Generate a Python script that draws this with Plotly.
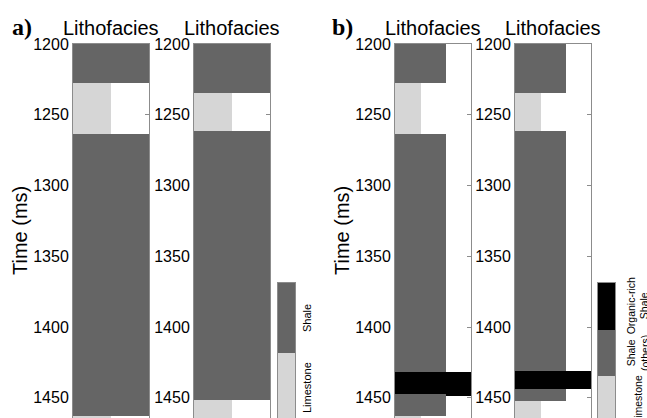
import plotly.graph_objects as go

# ---------------- data ----------------
FACIES = ["Limestone", "Shale", "Organic-rich Shale"]
FACIES_COLORS = {"Limestone": "#d6d6d6", "Shale": "#656565", "Organic-rich Shale": "#000000"}

TIME_TICKS = [1200, 1250, 1300, 1350, 1400, 1450]
TIME_RANGE = [1464.3, 1200]

# panel a, first column (two sub-columns)
a1_s1_bounds = [1200, 1227.6, 1263.6, 1463.0, 1475]
a1_s1_facies = ["Shale", "Limestone", "Shale", "Limestone"]
a1_s2_bounds = [1200, 1227.6, 1263.6, 1463.0, 1475]
a1_s2_facies = ["Shale", None, "Shale", None]

# panel a, second column
a2_s1_bounds = [1200, 1234.4, 1261.5, 1451.8, 1475]
a2_s1_facies = ["Shale", "Limestone", "Shale", "Limestone"]
a2_s2_bounds = [1200, 1234.4, 1261.5, 1451.8, 1475]
a2_s2_facies = ["Shale", None, "Shale", None]

# panel b, first column (three sub-columns)
b1_s1_bounds = [1200, 1227.6, 1263.6, 1432.0, 1447.6, 1463.0, 1475]
b1_s1_facies = ["Shale", "Limestone", "Shale", "Organic-rich Shale", "Shale", "Limestone"]
b1_s2_bounds = [1200, 1227.6, 1263.6, 1432.0, 1447.6, 1463.0, 1475]
b1_s2_facies = ["Shale", None, "Shale", "Organic-rich Shale", "Shale", None]
b1_s3_bounds = [1200, 1432.0, 1448.6, 1475]
b1_s3_facies = [None, "Organic-rich Shale", None]

# panel b, second column
b2_s1_bounds = [1200, 1234.4, 1261.5, 1431.1, 1444.0, 1452.3, 1475]
b2_s1_facies = ["Shale", "Limestone", "Shale", "Organic-rich Shale", "Shale", "Limestone"]
b2_s2_bounds = [1200, 1234.4, 1261.5, 1431.1, 1444.0, 1452.3, 1475]
b2_s2_facies = ["Shale", None, "Shale", "Organic-rich Shale", "Shale", None]
b2_s3_bounds = [1200, 1431.1, 1444.0, 1475]
b2_s3_facies = [None, "Organic-rich Shale", None]

COLUMN_TITLE = "Lithofacies"
Y_TITLE = "Time (ms)"
PANEL_LABELS = ["a)", "b)"]

cbar_a_facies = ["Limestone", "Shale"]
cbar_a_labels = ["Limestone", "Shale"]
cbar_b_facies = ["Limestone", "Shale", "Organic-rich Shale"]
cbar_b_labels = ["Limestone", "Shale<br>(others)", "Organic-rich<br>Shale"]

columns = [
    [(a1_s1_bounds, a1_s1_facies), (a1_s2_bounds, a1_s2_facies)],
    [(a2_s1_bounds, a2_s1_facies), (a2_s2_bounds, a2_s2_facies)],
    [(b1_s1_bounds, b1_s1_facies), (b1_s2_bounds, b1_s2_facies), (b1_s3_bounds, b1_s3_facies)],
    [(b2_s1_bounds, b2_s1_facies), (b2_s2_bounds, b2_s2_facies), (b2_s3_bounds, b2_s3_facies)],
]

# ---------------- layout geometry (pixels) ----------------
W, H = 647, 418
col_px = [(73, 149), (194, 270), (395, 471), (515, 591)]
cbar_px = [(278, 295), (598, 615)]
plot_top_px = 44
cbar_top_px = 283
cbar_seg_px = [70.0, 46.67]

GRID = "#8c8c8c"
FONT = "Liberation Sans, Arial, Helvetica, sans-serif"

fig = go.Figure()
layout = dict(
    width=W, height=H, margin=dict(l=0, r=0, t=0, b=0, pad=0, autoexpand=False),
    paper_bgcolor="white", plot_bgcolor="white",
    showlegend=False, barmode="overlay", bargap=0,
    font=dict(family=FONT, color="black"),
)

def add_bars(subcols, xa, ya):
    for fac in FACIES:
        xs, bases, lens = [], [], []
        for i, (bounds, facies) in enumerate(subcols):
            for j, f in enumerate(facies):
                if f == fac:
                    xs.append(i)
                    bases.append(bounds[j])
                    lens.append(bounds[j + 1] - bounds[j])
        if xs:
            fig.add_trace(go.Bar(x=xs, y=lens, base=bases, width=1.0,
                                 marker=dict(color=FACIES_COLORS[fac], line=dict(width=0)),
                                 xaxis=xa, yaxis=ya, hoverinfo="skip"))

for k, subcols in enumerate(columns):
    n = len(subcols)
    x0, x1 = col_px[k]
    pad = 0.5 * n / (x1 - x0)
    xa = "x" if k == 0 else f"x{k+1}"
    ya = "y" if k == 0 else f"y{k+1}"
    add_bars(subcols, xa, ya)
    xname = "xaxis" if k == 0 else f"xaxis{k+1}"
    yname = "yaxis" if k == 0 else f"yaxis{k+1}"
    layout[xname] = dict(domain=[x0 / W, x1 / W], range=[-0.5 - pad, n - 0.5 + pad],
                         anchor=ya, side="top", showline=True, linecolor=GRID, linewidth=1,
                         showticklabels=False, ticks="", showgrid=False, zeroline=False,
                         fixedrange=True, automargin=False)
    layout[yname] = dict(domain=[0, 1 - plot_top_px / H], range=TIME_RANGE,
                         anchor=xa, tickvals=TIME_TICKS, ticktext=[str(t) for t in TIME_TICKS],
                         ticks="inside", ticklen=4, tickcolor=GRID, mirror="ticks",
                         showline=True, linecolor=GRID, linewidth=1, layer="below traces",
                         showgrid=False, zeroline=False, tickfont=dict(size=16, family=FONT),
                         fixedrange=True, automargin=False)

# custom colour bars
for c, (facs, labels) in enumerate([(cbar_a_facies, cbar_a_labels), (cbar_b_facies, cbar_b_labels)]):
    k = 5 + c
    xa, ya = f"x{k}", f"y{k}"
    n = len(facs)
    for i, f in enumerate(facs):
        fig.add_trace(go.Bar(x=[0], y=[1], base=[i], width=1.0,
                             marker=dict(color=FACIES_COLORS[f], line=dict(width=0)),
                             xaxis=xa, yaxis=ya, hoverinfo="skip"))
    x0, x1 = cbar_px[c]
    visible = (H - cbar_top_px) / cbar_seg_px[c]
    layout[f"xaxis{k}"] = dict(domain=[x0 / W, x1 / W], range=[-0.52, 0.52], anchor=ya,
                               side="top", showline=True, linecolor=GRID, mirror=True,
                               showticklabels=False, ticks="", showgrid=False, zeroline=False,
                               automargin=False, fixedrange=True)
    layout[f"yaxis{k}"] = dict(domain=[0, 1 - cbar_top_px / H], range=[n - visible, n],
                               anchor=xa, showline=True, linecolor=GRID, mirror=True,
                               showticklabels=False, ticks="", showgrid=False, zeroline=False,
                               automargin=False, fixedrange=True)

annotations = []
# column titles
for k in range(4):
    x0, x1 = col_px[k]
    annotations.append(dict(text=COLUMN_TITLE, x=(x0 + x1) / 2 / W, y=1 - 28 / H,
                            xref="paper", yref="paper", showarrow=False,
                            xanchor="center", yanchor="middle",
                            font=dict(size=20, family=FONT, color="black")))
# panel labels and y titles
for p, (lx, tx) in enumerate([(21.5, 20), (342.5, 342)]):
    annotations.append(dict(text=f"<b>{PANEL_LABELS[p]}</b>", x=lx / W, y=1 - 27 / H,
                            xref="paper", yref="paper", showarrow=False,
                            xanchor="center", yanchor="middle",
                            font=dict(size=24, family="Liberation Serif, Times New Roman, serif",
                                      color="black")))
    annotations.append(dict(text=Y_TITLE, x=tx / W, y=1 - 231 / H, xref="paper", yref="paper",
                            showarrow=False, textangle=-90, xanchor="center", yanchor="middle",
                            font=dict(size=20, family=FONT, color="black")))
# colour bar labels
for c, (labels, lx, fs) in enumerate([(cbar_a_labels, 307, 11), (cbar_b_labels, 638, 10.5)]):
    for i, lab in enumerate(labels):
        annotations.append(dict(text=lab, x=lx / W, y=i + 0.5, xref="paper", yref=f"y{5 + c}",
                                showarrow=False, textangle=-90, xanchor="center",
                                yanchor="middle", font=dict(size=fs, family=FONT, color="black")))
layout["annotations"] = annotations

fig.update_layout(**layout)
fig.write_html("out.html", config={"displayModeBar": False, "staticPlot": True},
               post_script="document.body.style.margin='0';document.body.style.overflow='hidden';")
